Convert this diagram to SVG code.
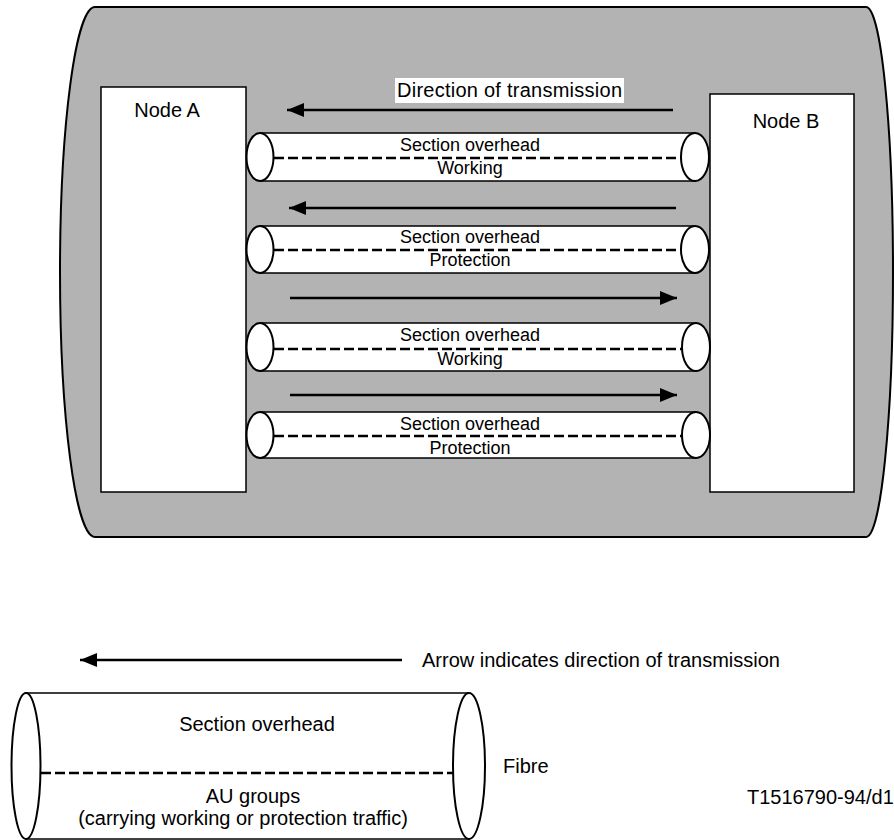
<svg xmlns="http://www.w3.org/2000/svg" width="894" height="840" viewBox="0 0 894 840">
  <style>
    text { font-family: "Liberation Sans", Arial, sans-serif; fill: #000; }
    .lbl { font-size: 20px; }
    .tlbl { font-size: 18px; text-anchor: middle; }
    .node { fill: #fff; stroke: #000; stroke-width: 1.5; }
    .tube { fill: #fff; stroke: #000; stroke-width: 1.5; }
    .cap { fill: #fff; stroke: #000; stroke-width: 2; }
    .dash { stroke: #000; stroke-width: 2.4; stroke-dasharray: 10 4; fill: none; }
    .arrow { stroke: #000; stroke-width: 2.5; fill: none; }
  </style>
  <defs>
    <marker id="head" markerUnits="userSpaceOnUse" markerWidth="18" markerHeight="14" refX="17" refY="7" orient="auto">
      <path d="M0,0 L17,7 L0,14 Z" fill="#000"/>
    </marker>
  </defs>

  <!-- shaded enclosure -->
  <path id="enclosure" d="M95,7 L866,7 A27,265 0 0 1 866,537 L95,537 A35,265 0 0 1 95,7 Z" fill="#b3b3b3" stroke="#000" stroke-width="2"/>

  <g id="nodeA">
    <rect class="node" x="101" y="87" width="145" height="405"/>
    <text class="lbl" x="167" y="117" text-anchor="middle">Node A</text>
  </g>
  <g id="nodeB">
    <rect class="node" x="710" y="94" width="144" height="398"/>
    <text class="lbl" x="786" y="128" text-anchor="middle">Node B</text>
  </g>

  <g id="title">
    <rect x="395" y="78" width="229" height="25" fill="#fff"/>
    <text class="lbl" x="397" y="97" textLength="225">Direction of transmission</text>
  </g>

  <g id="connectors">
    <line class="arrow" x1="673" y1="110" x2="287" y2="110" marker-end="url(#head)"/>
    <line class="arrow" x1="676" y1="208" x2="289" y2="208" marker-end="url(#head)"/>
    <line class="arrow" x1="290" y1="298" x2="677" y2="298" marker-end="url(#head)"/>
    <line class="arrow" x1="290" y1="395" x2="677" y2="395" marker-end="url(#head)"/>
    <line class="arrow" x1="402" y1="660" x2="80" y2="660" marker-end="url(#head)"/>
  </g>

  <!-- fibre 1: working, B to A -->
  <g id="fibre1">
    <rect class="tube" x="260" y="133" width="435" height="48"/>
    <ellipse class="cap" cx="260" cy="157" rx="13.5" ry="24"/>
    <ellipse class="cap" cx="695" cy="157" rx="14" ry="24"/>
    <line class="dash" x1="274" y1="158" x2="681" y2="158"/>
    <text class="tlbl" x="470" y="151">Section overhead</text>
    <text class="tlbl" x="470" y="174">Working</text>
  </g>

  <!-- fibre 2: protection, B to A -->
  <g id="fibre2">
    <rect class="tube" x="260" y="226" width="435" height="47"/>
    <ellipse class="cap" cx="260" cy="249.5" rx="13.5" ry="23.5"/>
    <ellipse class="cap" cx="695" cy="249.5" rx="14" ry="23.5"/>
    <line class="dash" x1="274" y1="250" x2="681" y2="250"/>
    <text class="tlbl" x="470" y="243">Section overhead</text>
    <text class="tlbl" x="470" y="266">Protection</text>
  </g>

  <!-- fibre 3: working, A to B -->
  <g id="fibre3">
    <rect class="tube" x="260" y="323" width="436" height="48"/>
    <ellipse class="cap" cx="260" cy="347" rx="13.5" ry="24"/>
    <ellipse class="cap" cx="696" cy="347" rx="14" ry="24"/>
    <line class="dash" x1="274" y1="349" x2="682" y2="349"/>
    <text class="tlbl" x="470" y="341">Section overhead</text>
    <text class="tlbl" x="470" y="365">Working</text>
  </g>

  <!-- fibre 4: protection, A to B -->
  <g id="fibre4">
    <rect class="tube" x="260" y="412" width="436" height="46"/>
    <ellipse class="cap" cx="260" cy="435" rx="13.5" ry="23"/>
    <ellipse class="cap" cx="696" cy="435" rx="14" ry="23"/>
    <line class="dash" x1="274" y1="436" x2="682" y2="436"/>
    <text class="tlbl" x="470" y="430">Section overhead</text>
    <text class="tlbl" x="470" y="454">Protection</text>
  </g>

  <!-- key -->
  <g id="key">
    <text class="lbl" x="422" y="667">Arrow indicates direction of transmission</text>
    <rect class="tube" x="26" y="693" width="443" height="146"/>
    <ellipse class="cap" cx="26" cy="766" rx="14.5" ry="73"/>
    <ellipse class="cap" cx="469" cy="766" rx="16" ry="73"/>
    <line class="dash" x1="41" y1="773" x2="453" y2="773"/>
    <text class="lbl" x="257" y="731" text-anchor="middle">Section overhead</text>
    <text class="lbl" x="253" y="803" text-anchor="middle">AU groups</text>
    <text class="lbl" x="243" y="825" text-anchor="middle">(carrying working or protection traffic)</text>
    <text class="lbl" x="503" y="773">Fibre</text>
  </g>

  <text id="ref" class="lbl" x="747" y="804">T1516790-94/d1</text>
</svg>
